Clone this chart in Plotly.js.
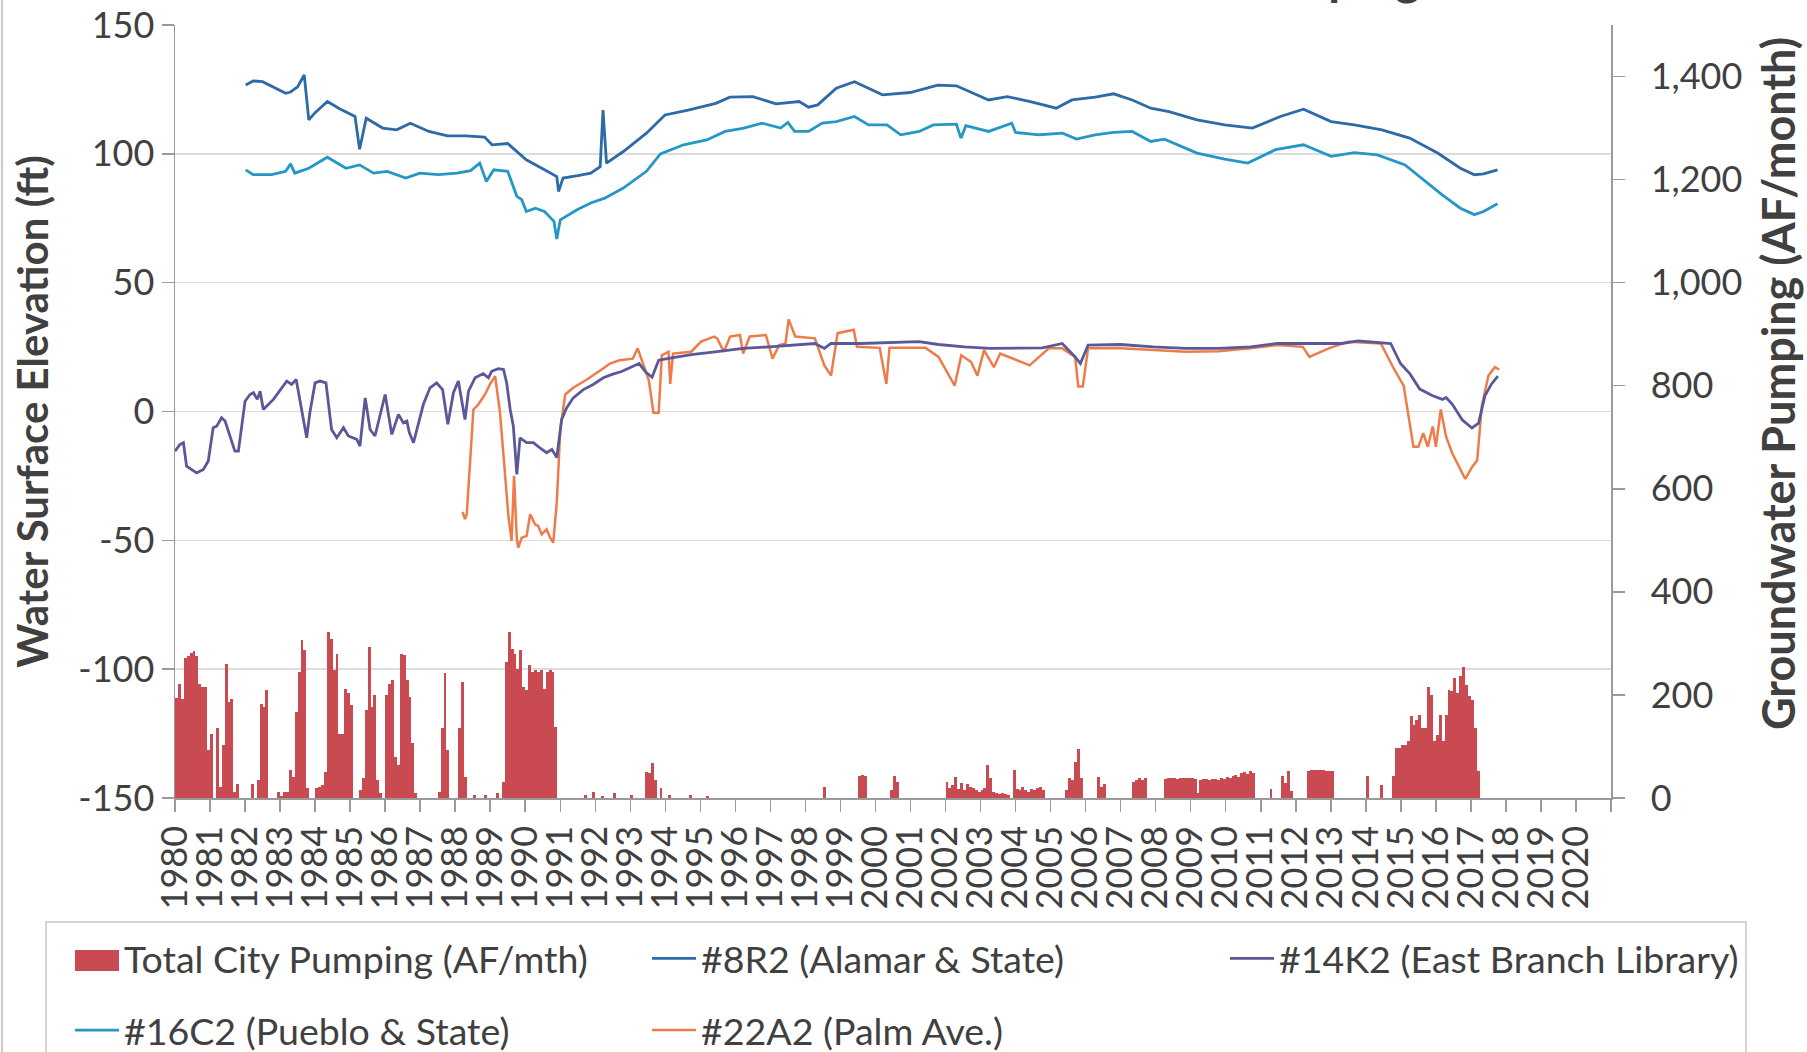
<!DOCTYPE html>
<html>
<head>
<meta charset="utf-8">
<script src="https://cdn.plot.ly/plotly-3.0.1.min.js"></script>
<style>
html,body{margin:0;padding:0;background:#ffffff;overflow:hidden;}
#chart{width:1807px;height:1052px;}
</style>
</head>
<body>
<div id="chart"></div>
<script>
// ---------------- DATA ----------------
const xTickYears = [1980,1981,1982,1983,1984,1985,1986,1987,1988,1989,1990,1991,1992,1993,1994,1995,1996,1997,1998,1999,2000,2001,2002,2003,2004,2005,2006,2007,2008,2009,2010,2011,2012,2013,2014,2015,2016,2017,2018,2019,2020,2021];
const xTickLabels = ['1980','1981','1982','1983','1984','1985','1986','1987','1988','1989','1990','1991','1992','1993','1994','1995','1996','1997','1998','1999','2000','2001','2002','2003','2004','2005','2006','2007','2008','2009','2010','2011','2012','2013','2014','2015','2016','2017','2018','2019','2020',''];
const leftTicks = [-150,-100,-50,0,50,100,150];
const leftTickLabels = ['-150','-100','-50','0','50','100','150'];
const rightTicks = [0,200,400,600,800,1000,1200,1400];

// Total City Pumping (AF/month), one row of 12 months per year
const pumpYears = [1980,1981,1982,1983,1984,1985,1986,1987,1988,1989,1990,1991,1992,1993,1994,1995,1996,1997,1998,1999,2000,2001,2002,2003,2004,2005,2006,2007,2008,2009,2010,2011,2012,2013,2014,2015,2016,2017];
const pumpMonthly = [
  [195,222,193,271,275,282,285,275,222,216,216,93],
  [125,0,135,22,103,261,187,193,12,28,0,0],
  [0,0,28,0,35,183,177,209,0,0,0,12],
  [3,12,12,54,41,167,245,306,287,19,0,0],
  [20,22,25,51,322,309,248,280,125,125,212,203],
  [180,0,0,15,38,170,293,177,200,35,9,0],
  [200,222,229,80,64,280,277,229,196,106,9,0],
  [0,0,0,0,0,0,12,135,242,93,0,0],
  [0,135,225,41,0,0,6,0,0,0,6,0],
  [0,0,9,0,32,264,322,290,280,251,287,216],
  [209,258,245,248,245,248,212,245,248,245,138,0],
  [0,0,0,0,0,0,0,0,5,0,0,12],
  [0,0,3,0,0,0,9,0,0,0,0,0],
  [6,0,0,0,0,51,48,67,35,0,19,0],
  [0,6,0,0,0,0,0,0,6,0,0,0],
  [0,0,3,0,0,0,0,0,0,0,0,0],
  [0,0,0,0,0,0,0,0,0,0,0,0],
  [0,0,0,0,0,0,0,0,0,0,0,0],
  [0,0,0,0,0,0,22,0,0,0,0,0],
  [0,0,0,0,0,0,43,45,43,0,0,0],
  [0,0,0,0,0,15,43,32,0,0,0,0],
  [0,0,0,0,0,0,0,0,0,0,0,0],
  [32,20,25,41,18,30,15,28,22,20,15,12],
  [15,20,64,38,12,10,8,10,8,6,0,54],
  [18,15,22,15,12,18,15,20,22,15,0,0],
  [0,0,0,0,0,15,38,35,70,96,38,0],
  [0,0,0,0,40,22,28,0,0,0,0,0],
  [0,0,0,0,32,35,38,35,38,0,0,0],
  [0,0,0,36,38,38,38,37,38,38,38,38],
  [38,36,10,35,36,36,35,37,36,35,38,36],
  [40,38,42,45,40,48,50,46,52,48,0,0],
  [0,0,0,18,0,0,0,42,30,52,13,0],
  [0,0,0,0,53,55,55,55,55,55,53,53],
  [53,0,0,0,0,0,0,0,0,0,0,0],
  [42,0,0,0,0,26,0,0,0,42,97,97],
  [103,103,110,160,142,152,161,136,136,216,200,110],
  [123,161,110,161,210,207,233,203,236,255,220,197],
  [190,136,52,0,0,0,0,0,0,0,0,0]
];

// Well water surface elevations (ft): [decimal year, elevation]
const well8R2 = [[1982.02,126.7],[1982.23,128.3],[1982.5,128],[1982.8,126],[1983.16,123.5],[1983.3,124],[1983.5,126],[1983.69,130.6],[1983.82,113.2],[1984.0,116],[1984.35,120.3],[1984.7,117.5],[1985.14,114.5],[1985.27,101.8],[1985.46,113.8],[1985.93,110],[1986.33,109.3],[1986.72,111.9],[1987.25,108.7],[1987.78,107],[1988.3,107],[1988.84,106.5],[1989.05,103.5],[1989.5,104],[1990.03,97.7],[1990.55,93.8],[1990.9,91.2],[1990.95,85.4],[1991.08,90.6],[1991.5,91.5],[1991.87,92.5],[1992.14,95],[1992.22,117],[1992.32,96.4],[1992.8,100.9],[1993.46,108],[1993.99,115.1],[1994.65,117],[1995.44,119.6],[1995.84,122],[1996.5,122.2],[1997.16,119.4],[1997.82,120.3],[1998.09,118.1],[1998.35,119],[1998.88,125.5],[1999.4,128],[2000.2,122.9],[2000.99,123.8],[2001.78,126.7],[2002.31,126.4],[2003.23,120.9],[2003.76,122.2],[2004.42,120.3],[2005.16,117.7],[2005.61,120.9],[2006.27,122],[2006.8,123.3],[2007.33,120.9],[2007.86,117.7],[2008.38,116.4],[2009.18,113.2],[2009.97,111.2],[2010.76,110],[2011.56,114.5],[2012.22,117.3],[2013.01,112.5],[2013.67,111.2],[2014.46,109.3],[2015.25,106.1],[2016.05,100.3],[2016.7,94.4],[2017.1,91.9],[2017.36,92.2],[2017.76,93.8]];

const well16C2 = [[1982.02,93.8],[1982.23,91.9],[1982.76,91.9],[1983.16,93.2],[1983.3,96.1],[1983.42,92.5],[1983.82,94.4],[1984.35,98.7],[1984.88,94.4],[1985.27,95.7],[1985.67,92.5],[1986.06,93.2],[1986.59,90.6],[1986.99,92.5],[1987.52,91.9],[1988.05,92.5],[1988.44,93.5],[1988.7,96.4],[1988.89,89.3],[1989.1,93.8],[1989.5,93.2],[1989.76,83.5],[1989.9,82.2],[1990.03,77.6],[1990.29,78.9],[1990.55,77.6],[1990.82,73.8],[1990.9,66.9],[1991.0,74.4],[1991.48,78.3],[1991.87,80.9],[1992.27,82.8],[1992.8,86.7],[1993.46,93.2],[1993.86,100],[1994.52,103.5],[1995.18,105.4],[1995.71,108.7],[1996.24,110],[1996.76,111.9],[1997.29,110],[1997.5,112.2],[1997.69,108.7],[1998.09,108.7],[1998.48,111.9],[1998.88,112.5],[1999.4,114.5],[1999.8,111.2],[2000.33,111.2],[2000.72,107.4],[2001.25,108.7],[2001.65,111.2],[2002.31,111.5],[2002.44,106.1],[2002.58,110.9],[2003.23,108.7],[2003.89,111.9],[2004.0,108.3],[2004.68,107.4],[2005.34,108],[2005.74,105.7],[2006.27,107.4],[2006.8,108.3],[2007.33,108.7],[2007.86,104.8],[2008.25,105.7],[2009.18,100.3],[2009.97,97.9],[2010.63,96.4],[2011.42,101.6],[2012.22,103.5],[2013.01,99],[2013.67,100.5],[2014.33,99.6],[2015.12,95.7],[2015.65,89.9],[2016.18,84.1],[2016.7,78.9],[2017.1,76.4],[2017.36,77.6],[2017.76,80.6]];

const well14K2 = [[1980.0,-15.4],[1980.14,-12.8],[1980.24,-12.1],[1980.33,-21.2],[1980.62,-23.8],[1980.81,-22.5],[1980.95,-19.2],[1981.09,-6.3],[1981.19,-5.7],[1981.33,-2.4],[1981.43,-3.7],[1981.71,-15.4],[1981.81,-15.4],[1982.0,4.0],[1982.14,6.6],[1982.24,7.3],[1982.35,4.7],[1982.43,7.9],[1982.52,0.8],[1982.81,4.7],[1983.19,11.8],[1983.33,10.5],[1983.46,12.4],[1983.62,-0.5],[1983.76,-10.2],[1983.85,-0.5],[1984.0,11.1],[1984.14,11.8],[1984.31,11.1],[1984.47,-7],[1984.62,-10.2],[1984.81,-6.3],[1984.95,-9.5],[1985.19,-10.8],[1985.28,-13.4],[1985.43,5.3],[1985.57,-7],[1985.71,-9.5],[1985.85,-1.8],[1986.0,6.6],[1986.19,-8.9],[1986.38,-1.1],[1986.52,-4.4],[1986.62,-3.7],[1986.69,-8.2],[1986.81,-12.1],[1987.09,2.7],[1987.28,9.2],[1987.47,11.1],[1987.64,8.5],[1987.79,-5],[1987.95,7.3],[1988.09,11.8],[1988.19,4],[1988.28,-3.1],[1988.38,7.9],[1988.57,13.1],[1988.8,14.7],[1988.95,13.1],[1989.04,15.6],[1989.23,16.6],[1989.38,16.3],[1989.47,11.1],[1989.57,0.8],[1989.66,-5.7],[1989.76,-24.4],[1989.85,-10.2],[1990.04,-12.1],[1990.23,-12.1],[1990.42,-14.1],[1990.61,-16],[1990.76,-14.7],[1990.9,-17.9],[1991.04,-3.1],[1991.18,1.4],[1991.37,5.3],[1991.66,8.5],[1991.94,10.5],[1992.23,13.1],[1992.5,14.5],[1992.75,15.5],[1993.25,18.6],[1993.44,15.3],[1993.62,13.3],[1993.81,19.9],[1994.18,20.8],[1994.74,22.1],[1995.48,23.2],[1996.22,24.5],[1996.97,25.1],[1997.71,25.8],[1998.27,26.4],[1998.54,24.5],[1998.73,26.4],[1999.57,26.4],[2000.5,26.8],[2001.24,27.1],[2001.8,26],[2002.54,25.1],[2003.28,24.5],[2004.03,24.5],[2004.77,24.7],[2005.33,26.4],[2005.7,21.2],[2005.85,18.6],[2006.07,25.8],[2007.0,26],[2007.93,25.1],[2008.86,24.5],[2009.8,24.5],[2010.71,25.1],[2011.46,26.4],[2012.57,26.4],[2013.31,26.4],[2013.78,27.4],[2014.43,26.8],[2014.71,26.4],[2014.99,18.6],[2015.26,14.6],[2015.54,8.7],[2015.91,6.1],[2016.19,4.7],[2016.29,5.4],[2016.47,2.8],[2016.75,-3.2],[2017.03,-6.4],[2017.22,-4.5],[2017.4,6.1],[2017.59,10.7],[2017.77,13.7]];

const well22A2 = [[1988.21,-39],[1988.28,-41.8],[1988.33,-39.9],[1988.52,0.8],[1988.66,2.7],[1988.85,6.6],[1988.99,10.5],[1989.14,13.7],[1989.28,-0.5],[1989.42,-22.5],[1989.52,-40.6],[1989.61,-50.2],[1989.68,-25],[1989.76,-49.6],[1989.8,-52.8],[1989.9,-49],[1990.04,-48.3],[1990.14,-39.9],[1990.28,-43.8],[1990.37,-44.4],[1990.47,-47.7],[1990.61,-45.7],[1990.71,-49],[1990.8,-50.9],[1990.9,-35.4],[1991.0,-7],[1991.14,6.6],[1991.37,9.2],[1991.76,12.4],[1992.14,15.9],[1992.42,18.6],[1992.69,19.9],[1993.07,20.5],[1993.21,24.5],[1993.34,19.2],[1993.53,12],[1993.66,-0.5],[1993.81,-0.5],[1993.9,21.8],[1994.09,23.2],[1994.14,10.7],[1994.22,22.5],[1994.74,23.2],[1995.02,27.1],[1995.39,29.1],[1995.48,28.4],[1995.67,23.2],[1995.85,29.1],[1996.13,29.7],[1996.22,22.5],[1996.41,29.1],[1996.87,29.7],[1997.06,20.5],[1997.25,25.8],[1997.43,26.4],[1997.52,35.7],[1997.71,29.1],[1998.27,28.4],[1998.54,17.9],[1998.73,13.9],[1998.92,30.4],[1999.38,31.7],[1999.47,25.1],[2000.12,24.7],[2000.31,10.7],[2000.4,24.7],[2001.43,24.7],[2001.8,21.2],[2002.26,10],[2002.45,21.8],[2002.73,19.2],[2002.91,13.9],[2003.1,23.8],[2003.38,17.2],[2003.56,22.5],[2004.03,19.9],[2004.4,17.9],[2004.95,24.5],[2005.33,24.5],[2005.7,21.2],[2005.79,9.7],[2005.92,9.7],[2006.07,24.5],[2007.0,24.5],[2007.93,23.8],[2008.86,23.2],[2009.8,23.4],[2010.71,24.5],[2011.46,25.8],[2012.2,25.1],[2012.39,21.2],[2012.94,24.5],[2013.5,27.1],[2014.43,26.4],[2014.8,16.6],[2015.08,10],[2015.36,-13.7],[2015.5,-13.7],[2015.64,-8.4],[2015.77,-13.7],[2015.91,-5.8],[2016.0,-13.7],[2016.14,0.8],[2016.29,-9.7],[2016.47,-16.3],[2016.66,-21.6],[2016.84,-26.2],[2017.03,-21.6],[2017.18,-18.9],[2017.31,2.1],[2017.5,13.9],[2017.68,17.2],[2017.81,16.3]];

const chartTitle = 'Groundwater Elevations and Pumping';
const leftTitle = 'Water Surface Elevation (ft)';
const rightTitle = 'Groundwater Pumping (AF/month)';

// ---------------- BUILD ----------------
const barX = [], barY = [];
pumpYears.forEach(function(yr, i){
  pumpMonthly[i].forEach(function(v, m){ barX.push(yr + (m + 0.5) / 12); barY.push(v); });
});
function xs(a){ return a.map(function(p){ return p[0]; }); }
function ys(a){ return a.map(function(p){ return p[1]; }); }

const FONT = 'Lato, "Open Sans", sans-serif';
const TXT = '#404040';
const AX = '#9A9A9A';
const BAR = '#C94B51';

const traces = [
  {type:'bar', name:'Total City Pumping (AF/mth)', x:barX, y:barY, width:1/12, yaxis:'y2',
   marker:{color:BAR, line:{width:0}}, legend:'legend', legendgroup:'a', hoverinfo:'skip'},
  {type:'scatter', mode:'lines', name:'#8R2 (Alamar & State)', x:xs(well8R2), y:ys(well8R2),
   line:{color:'#2C6AA8', width:2.8}, legend:'legend2', legendgroup:'b'},
  {type:'scatter', mode:'lines', name:'#16C2 (Pueblo & State)', x:xs(well16C2), y:ys(well16C2),
   line:{color:'#2597C6', width:2.8}, legend:'legend', legendgroup:'c'},
  {type:'scatter', mode:'lines', name:'#22A2 (Palm Ave.)', x:xs(well22A2), y:ys(well22A2),
   line:{color:'#EE7B4A', width:2.5}, legend:'legend2', legendgroup:'d'},
  {type:'scatter', mode:'lines', name:'#14K2 (East Branch Library)', x:xs(well14K2), y:ys(well14K2),
   line:{color:'#5A5898', width:2.8}, legend:'legend3', legendgroup:'e'}
];

const legendBase = {
  orientation:'v', xanchor:'left', yanchor:'top', y:-0.1675,
  bgcolor:'rgba(0,0,0,0)', borderwidth:0, itemwidth:44, tracegroupgap:20,
  font:{family:FONT, size:37.5, color:TXT}
};

const layout = {
  width:1807, height:1052,
  margin:{l:175, r:196, t:25, b:254, autoexpand:false},
  paper_bgcolor:'#ffffff', plot_bgcolor:'rgba(0,0,0,0)',
  font:{family:FONT, size:36, color:TXT},
  bargap:0, showlegend:true,
  title:{text:chartTitle, xref:'container', yref:'container',
         x:1420/1807, xanchor:'right', y:1, yanchor:'bottom', pad:{b:5},
         font:{family:FONT, size:48, weight:700, color:TXT}},
  xaxis:{type:'linear', range:[1980,2021], tickmode:'array', tickvals:xTickYears, ticktext:xTickLabels,
         tickangle:-90, ticks:'outside', ticklen:12, tickwidth:1.5, tickcolor:AX,
         showline:true, linecolor:AX, linewidth:1.5, showgrid:false, zeroline:false,
         tickfont:{family:FONT, size:36, color:TXT}},
  yaxis:{range:[-150,150], tickmode:'array', tickvals:leftTicks, ticktext:leftTickLabels,
         ticks:'outside', ticklen:12, tickwidth:1.5, tickcolor:AX,
         showline:true, linecolor:AX, linewidth:1.5, showgrid:true, gridcolor:'#DCDCDC', gridwidth:1.5,
         zeroline:false, tickfont:{family:FONT, size:36, color:TXT},
         title:{text:leftTitle, standoff:16, font:{family:FONT, size:42, weight:700, color:TXT}}},
  yaxis2:{overlaying:'y', side:'right', range:[0,1500], tickmode:'array', tickvals:rightTicks,
         tickformat:',d', ticks:'outside', ticklen:12, tickwidth:1.5, tickcolor:AX, ticklabelstandoff:19,
         showline:true, linecolor:AX, linewidth:1.5, showgrid:false, zeroline:false,
         tickfont:{family:FONT, size:36, color:TXT}},
  legend:Object.assign({}, legendBase, {x:-0.0731}),
  legend2:Object.assign({}, legendBase, {x:0.3287}),
  legend3:Object.assign({}, legendBase, {x:0.7312}),
  annotations:[
    {text:rightTitle, xref:'paper', yref:'paper', x:(1778-175)/1436, y:(798-384)/773,
     xanchor:'center', yanchor:'middle', textangle:-90, showarrow:false,
     font:{family:FONT, size:45, weight:700, color:TXT}}
  ],
  shapes:[
    // legend frame
    {type:'rect', xref:'paper', yref:'paper', x0:-0.0898, x1:1.094, y0:-0.40, y1:-0.1604,
     line:{color:'#C6C6C6', width:1.5}, fillcolor:'rgba(0,0,0,0)'},
    // wide swatch behind the bar legend symbol (Excel-style rectangle)
    {type:'rect', xref:'paper', yref:'paper', x0:(75-175)/1436, x1:(119-175)/1436,
     y0:(798-971)/773, y1:(798-950)/773, line:{width:0}, fillcolor:BAR},
    // chart-area left border
    {type:'line', xref:'paper', yref:'paper', x0:-0.1205, x1:-0.1205, y0:-0.40, y1:1.1,
     line:{color:'#C8C8C8', width:2}}
  ]
};

Plotly.newPlot('chart', traces, layout, {displayModeBar:false, staticPlot:true});
</script>
</body>
</html>
